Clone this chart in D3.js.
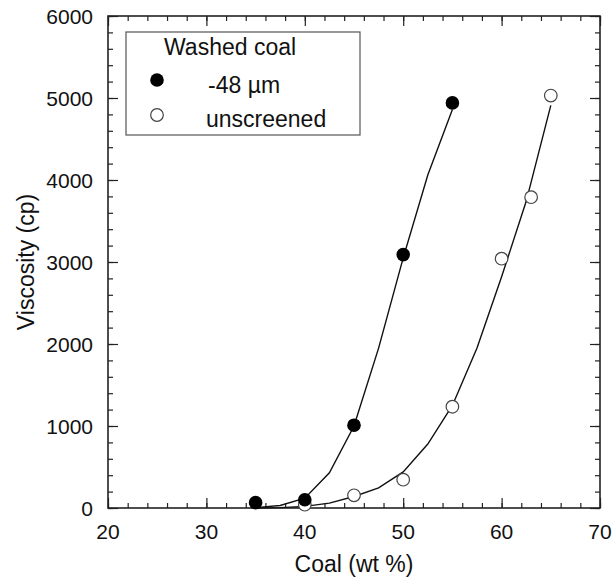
<!DOCTYPE html>
<html>
<head>
<meta charset="utf-8">
<script src="https://cdn.jsdelivr.net/npm/d3@7"></script>
<style>
  body { margin: 0; background: #fff; }
  text { font-family: "Liberation Sans", Arial, sans-serif; fill: #111; }
</style>
</head>
<body>
<div id="chart"></div>
<script>
// measured points
var coalFine = [35, 40, 45, 50, 55];
var viscFine = [65, 100, 1010, 3090, 4940];
var coalRaw = [40, 45, 50, 55, 60, 63, 65];
var viscRaw = [40, 155, 345, 1235, 3040, 3790, 5030];

// fitted curves (polyline vertices)
var fitFineX = [35, 37.5, 40, 42.5, 45, 47.5, 50, 52.5, 55];
var fitFineY = [5, 30, 120, 430, 1000, 1950, 3050, 4060, 4860];
var fitRawX = [35, 37.5, 40, 42.5, 45, 47.5, 50, 52.5, 55, 57.5, 60, 62.5, 65];
var fitRawY = [0, 5, 20, 60, 140, 245, 440, 780, 1250, 1950, 2820, 3740, 4910];

var xMajor = [20, 30, 40, 50, 60, 70];
var yMajor = [0, 1000, 2000, 3000, 4000, 5000, 6000];
var legendTitle = "Washed coal";
var legendLabels = ["-48 \u00b5m", "unscreened"];

var width = 615, height = 588;
var margin = {top: 16, right: 15, bottom: 80, left: 108};

var svg = d3.select("#chart").append("svg")
    .attr("width", width)
    .attr("height", height);

var x = d3.scaleLinear().domain([20, 70]).range([margin.left, width - margin.right]);
var y = d3.scaleLinear().domain([0, 6000]).range([height - margin.bottom, margin.top]);

var x0 = x.range()[0], x1 = x.range()[1];
var y0 = y.range()[0], y1 = y.range()[1];

// minor ticks (inside, all four sides)
var xMinor = d3.range(20, 70.1, 2);
var yMinor = d3.range(0, 6001, 200);

function tickAxis(axis, pos, vals, len) {
  var g = svg.append("g").attr("transform", pos)
    .call(axis.tickValues(vals).tickSize(len).tickFormat(""));
  g.select(".domain").remove();
  g.selectAll("line").attr("stroke", "#222").attr("stroke-width", 1.2);
  return g;
}
tickAxis(d3.axisBottom(x), "translate(0," + y0 + ")", xMinor, -5);
tickAxis(d3.axisTop(x), "translate(0," + y1 + ")", xMinor, -5);
tickAxis(d3.axisLeft(y), "translate(" + x0 + ",0)", yMinor, -5);
tickAxis(d3.axisRight(y), "translate(" + x1 + ",0)", yMinor, -5);
tickAxis(d3.axisBottom(x), "translate(0," + y0 + ")", xMajor, -10);
tickAxis(d3.axisTop(x), "translate(0," + y1 + ")", xMajor, -10);
tickAxis(d3.axisLeft(y), "translate(" + x0 + ",0)", yMajor, -10);
tickAxis(d3.axisRight(y), "translate(" + x1 + ",0)", yMajor, -10);

// tick labels
svg.append("g").selectAll("text")
    .data(xMajor).enter().append("text")
    .attr("x", function(d) { return x(d); })
    .attr("y", y0 + 31)
    .attr("text-anchor", "middle")
    .style("font-size", "21px")
    .text(function(d) { return d; });

svg.append("g").selectAll("text")
    .data(yMajor).enter().append("text")
    .attr("x", x0 - 15)
    .attr("y", function(d) { return y(d); })
    .attr("dy", "0.36em")
    .attr("text-anchor", "end")
    .style("font-size", "21px")
    .text(function(d) { return d; });

// frame
svg.append("rect")
    .attr("x", x0).attr("y", y1)
    .attr("width", x1 - x0).attr("height", y0 - y1)
    .attr("fill", "none")
    .attr("stroke", "#222")
    .attr("stroke-width", 1.6);

// axis titles
svg.append("text")
    .attr("x", (x0 + x1) / 2)
    .attr("y", 572)
    .attr("text-anchor", "middle")
    .style("font-size", "23px")
    .text("Coal (wt %)");

svg.append("text")
    .attr("transform", "translate(34," + ((y0 + y1) / 2) + ") rotate(-90)")
    .attr("text-anchor", "middle")
    .style("font-size", "23px")
    .text("Viscosity (cp)");

// fitted curves
var line = d3.line()
    .x(function(d) { return x(d[0]); })
    .y(function(d) { return y(d[1]); });

svg.append("path")
    .datum(d3.zip(fitFineX, fitFineY))
    .attr("d", line)
    .attr("fill", "none")
    .attr("stroke", "#111")
    .attr("stroke-width", 1.4);

svg.append("path")
    .datum(d3.zip(fitRawX, fitRawY))
    .attr("d", line)
    .attr("fill", "none")
    .attr("stroke", "#111")
    .attr("stroke-width", 1.4);

// data markers
svg.append("g").selectAll("circle")
    .data(d3.zip(coalRaw, viscRaw)).enter().append("circle")
    .attr("cx", function(d) { return x(d[0]); })
    .attr("cy", function(d) { return y(d[1]); })
    .attr("r", 6.3)
    .attr("fill", "#fff")
    .attr("stroke", "#444")
    .attr("stroke-width", 1.2);

svg.append("g").selectAll("circle")
    .data(d3.zip(coalFine, viscFine)).enter().append("circle")
    .attr("cx", function(d) { return x(d[0]); })
    .attr("cy", function(d) { return y(d[1]); })
    .attr("r", 6.8)
    .attr("fill", "#000");

// legend
var lg = svg.append("g");
lg.append("rect")
    .attr("x", 126).attr("y", 32)
    .attr("width", 234).attr("height", 103)
    .attr("fill", "#fff")
    .attr("stroke", "#555")
    .attr("stroke-width", 1.2);

lg.append("text")
    .attr("x", 164).attr("y", 55)
    .style("font-size", "23px")
    .text(legendTitle);

lg.append("circle")
    .attr("cx", 157).attr("cy", 80).attr("r", 6.8)
    .attr("fill", "#000");
lg.append("circle")
    .attr("cx", 157).attr("cy", 115).attr("r", 6.3)
    .attr("fill", "#fff").attr("stroke", "#444").attr("stroke-width", 1.2);

lg.selectAll(".lbl")
    .data(legendLabels).enter().append("text")
    .attr("class", "lbl")
    .attr("x", function(d, i) { return i === 0 ? 208 : 206; })
    .attr("y", function(d, i) { return i === 0 ? 93 : 127; })
    .style("font-size", "23px")
    .text(function(d) { return d; });
</script>
</body>
</html>
